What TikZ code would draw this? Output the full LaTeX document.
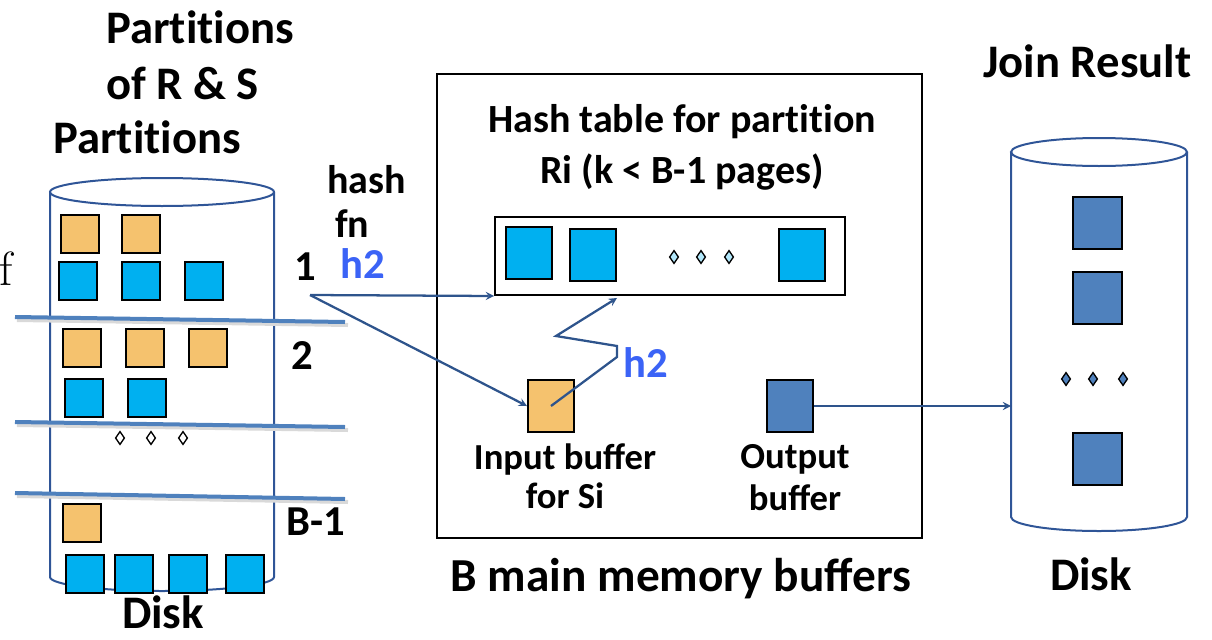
\documentclass[tikz,border=0pt]{standalone}
\usepackage{fontspec}
\newfontfamily\calibri{Carlito}
\usetikzlibrary{arrows}
\usetikzlibrary{shapes.geometric}
\tikzset{>=stealth}
\definecolor{rcolor}{RGB}{245,194,110}
\definecolor{scolor}{RGB}{0,176,240}
\definecolor{jcolor}{RGB}{79,129,189}
\definecolor{canline}{RGB}{47,85,151}
\definecolor{flowline}{RGB}{46,84,140}
\definecolor{hashblue}{RGB}{59,99,246}
% break the ti ligature of Carlito
\newcommand{\partword}{Part\kern0pt it\kern0pt ions}
\newcommand{\partone}{part\kern0pt it\kern0pt ion}
\tikzset{%
  page/.style={draw=black, line width=1.5pt, inner sep=0pt, minimum width=28.5pt, minimum height=28pt},
  rpage/.style={page, fill=rcolor},
  spage/.style={page, fill=scolor},
  bigpage/.style={page, minimum width=34.5pt, minimum height=39pt},
  dots/.style={diamond, draw=black, line width=1pt, inner sep=0pt, minimum width=7pt, minimum height=10pt},
  title/.style={font=\calibri\bfseries\fontsize{35}{40}\selectfont, anchor=base west, inner sep=0pt},
  label/.style={font=\calibri\bfseries\fontsize{30}{36}\selectfont, anchor=base, inner sep=0pt},
  small/.style={font=\calibri\bfseries\fontsize{27.5}{32}\selectfont, anchor=base, inner sep=0pt},
  cut/.style={draw=jcolor, line width=3pt},
  can/.style={draw=canline, line width=1.5pt},
  flow/.style={->, draw=flowline, line width=1.7pt}
}
\begin{document}
\begin{tikzpicture}[x=0.75pt, y=-0.75pt]
  \useasboundingbox (0,0) rectangle (1212,639);

  % titles
  \node[title] (t1) at (106,43) {\partword};
  \node[title] (t2) at (106,99) {of R \& S};
  \node[title] (t3) at (53,153) {\partword};
  \node[title] (jr) at (983,77) {Join Result};
  \node[title, anchor=base, font=\calibri\bfseries\fontsize{35.5}{40}\selectfont] (bm) at (681,591) {B main memory buffers};
  \node[title, anchor=base] (d1) at (163,628) {Disk};
  \node[title, anchor=base] (d2) at (1091,590) {Disk};
  \node[anchor=base west, inner sep=0pt, font=\fontsize{36}{40}\selectfont] (f) at (-1,285) {f};

  % left disk with the partitions
  \draw[can] (162,192) ellipse [x radius=84pt, y radius=10.5pt];
  \draw[can] (50,192) -- (50,577) arc [start angle=180, end angle=360, x radius=84pt, y radius=10.5pt] -- (274,192);
  \foreach \x/\y [count=\i] in {80/234, 141/234, 82/348, 145/348, 208/348, 82/523}
    \node[rpage] (r\i) at (\x,\y) {};
  \foreach \x/\y [count=\i] in {78/281, 141/281, 204/281, 84/398, 147/398, 85/574, 134/574, 188/574, 245/574}
    \node[spage] (s\i) at (\x,\y) {};
  \foreach \x [count=\i] in {120,151,183}
    \node[dots, fill=white] (ld\i) at (\x,438) {};

  % cuts between partitions (with a soft shadow)
  \foreach \ya/\yb in {317/322, 422/427, 493/499} {
    \draw[draw=black!15, line width=3pt] (17,\ya+3) -- (348,\yb+3);
    \draw[cut] (15,\ya) -- (345,\yb);
  }

  % partition numbers and hash fn
  \node[label, font=\calibri\bfseries\fontsize{32}{36}\selectfont] (n1) at (305,280) {1};
  \node[label, font=\calibri\bfseries\fontsize{32}{36}\selectfont] (n2) at (302,369) {2};
  \node[label, font=\calibri\bfseries\fontsize{32}{36}\selectfont] (nb) at (316,535) {B-1};
  \node[label, anchor=base west] (hash) at (327,193) {hash};
  \node[label, anchor=base west] (fn) at (335,237) {fn};
  \node[label, anchor=base west, text=hashblue, font=\calibri\bfseries\fontsize{32}{36}\selectfont] (h2a) at (340,278) {h2};

  % main memory buffers
  \node[draw=black, line width=1.5pt, minimum width=363.75pt, minimum height=348pt] (mem) at (679.5,306) {};
  \node[label] (ht1) at (682,132) {Hash table for \partone};
  \node[label] (ht2) at (682,183) {Ri (k < B-1 pages)};
  \node[draw=black, line width=1.5pt, minimum width=262.5pt, minimum height=58.5pt] (tbl) at (670,256) {};
  \node[bigpage, fill=scolor] (tp1) at (529,253) {};
  \node[bigpage, fill=scolor] (tp2) at (593,255) {};
  \node[bigpage, fill=scolor] (tp3) at (802,255) {};
  \foreach \x [count=\i] in {674,701,729}
    \node[dots, fill=scolor!30] (td\i) at (\x,257) {};
  \node[bigpage, fill=rcolor] (inbuf) at (551,406) {};
  \node[bigpage, fill=jcolor] (outbuf) at (790,406) {};
  \node[small] (in1) at (565,469) {Input buffer};
  \node[small] (in2) at (565,508) {for Si};
  \node[small] (out1) at (795,468) {Output};
  \node[small] (out2) at (795,510) {buffer};
  \node[label, anchor=base west, text=hashblue, font=\calibri\bfseries\fontsize{32}{36}\selectfont] (h2b) at (623,377) {h2};

  % right disk with the join result
  \draw[can] (1099,152) ellipse [x radius=66pt, y radius=10.5pt];
  \draw[can] (1011,152) -- (1011,517) arc [start angle=180, end angle=360, x radius=66pt, y radius=10.5pt] -- (1187,152);
  \node[bigpage, fill=jcolor, minimum width=36.75pt] (jp1) at (1097,223) {};
  \node[bigpage, fill=jcolor, minimum width=36.75pt] (jp2) at (1097,298) {};
  \node[bigpage, fill=jcolor, minimum width=36.75pt] (jp3) at (1097,459) {};
  \foreach \x [count=\i] in {1066,1093,1123}
    \node[dots, fill=jcolor] (rd\i) at (\x,379) {};

  % set up the arrow ends
  \coordinate (src) at (310,295);
  \coordinate (z1) at (617,357);
  \coordinate (z2) at (617,346);
  \coordinate (z3) at (556,336);
  \coordinate (tblin) at (617,298);
  \coordinate (disk2w) at (1011,406);

  % draw the arrows
  \draw[flow] (src) -- (tbl.south west);
  \draw[flow] (src) -- (inbuf.west);
  \draw[flow] (inbuf.center) -- (z1) -- (z2) -- (z3) -- (tblin);
  \draw[flow] (outbuf.east) -- (disk2w);

\end{tikzpicture}
\end{document}
